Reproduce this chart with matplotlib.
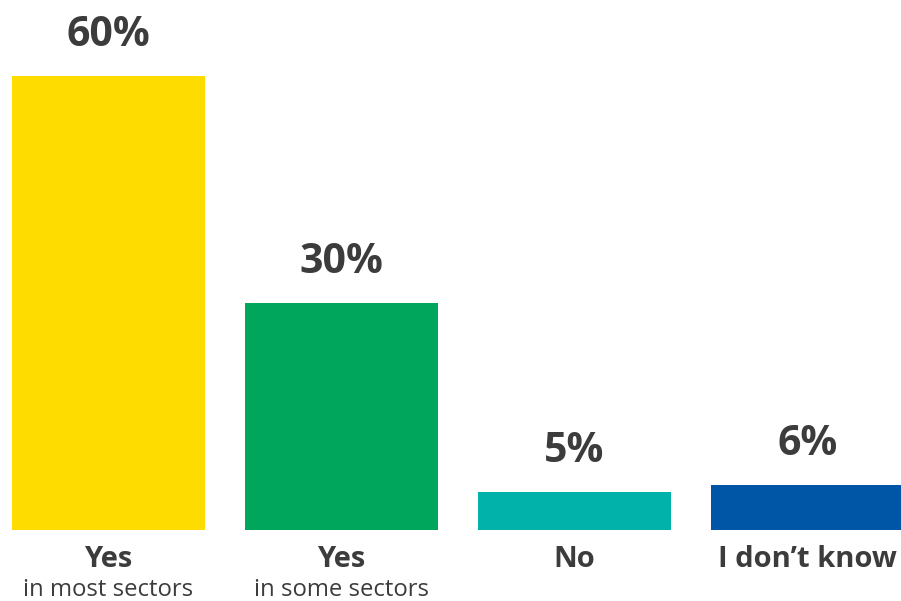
import matplotlib
matplotlib.use("Agg")
import matplotlib.pyplot as plt

categories = ["Yes", "Yes", "No", "I don\u2019t know"]
subtitles = ["in most sectors", "in some sectors", "", ""]
values = [60, 30, 5, 6]
value_labels = ["60%", "30%", "5%", "6%"]
colors = ["#FFDC00", "#00A65C", "#00B2A9", "#0056A6"]

W, H = 901, 601
fig = plt.figure(figsize=(W / 100, H / 100), dpi=100)
ax = fig.add_axes([0, 71 / H, 1, 530 / H])
x = list(range(len(values)))
ax.bar(x, values, width=193 / 233, color=colors)
ax.set_xlim(-108.5 / 233, (W - 108.5) / 233)
ax.set_ylim(0, 70)
ax.axis("off")

txt = "#3C3C3C"
fam = ["Open Sans", "DejaVu Sans"]
for xi, v, lab in zip(x, values, value_labels):
    ax.annotate(lab, (xi, v), xytext=(0, 21.5), textcoords="offset points",
                ha="center", va="baseline", fontsize=29.5, fontweight="bold",
                color=txt, family=fam)
for xi, c, s in zip(x, categories, subtitles):
    ax.annotate(c, (xi, 0), xytext=(0, -26.5), textcoords="offset points",
                ha="center", va="baseline", fontsize=21, fontweight="bold",
                color=txt, family=fam, annotation_clip=False)
    if s:
        ax.annotate(s, (xi, 0), xytext=(0, -47.5), textcoords="offset points",
                    ha="center", va="baseline", fontsize=17.2,
                    color=txt, family=fam, annotation_clip=False)

fig.savefig("out.png", dpi=100)
